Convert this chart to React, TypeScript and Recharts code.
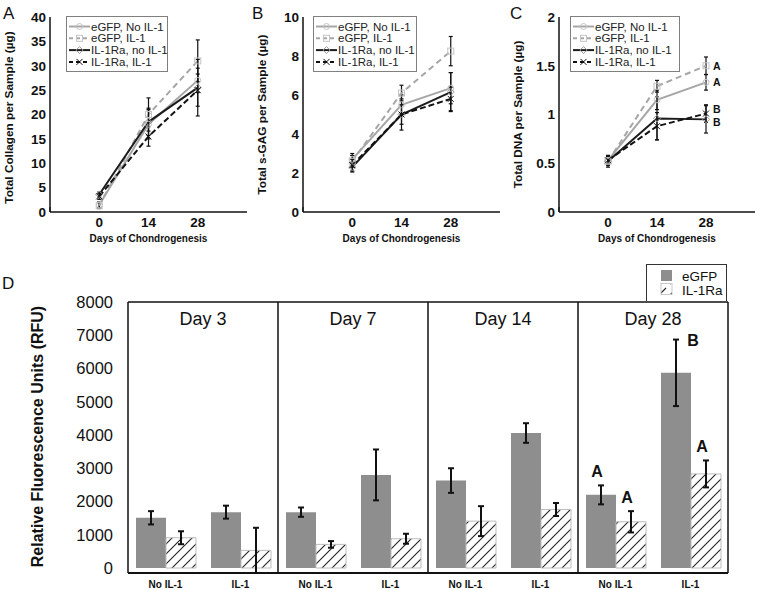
import React from 'react'
import {
  LineChart,
  Line,
  XAxis,
  YAxis,
  ErrorBar,
  Legend,
  LabelList,
  BarChart,
  Bar,
  ReferenceLine,
} from 'recharts'

const FONT = '"Liberation Sans", Arial, Helvetica, sans-serif'

// ---- panels A-C: time course ----
const days = [0, 14, 28]
const seriesNames = ['eGFP, No IL-1', 'eGFP, IL-1', 'IL-1Ra, no IL-1', 'IL-1Ra, IL-1']

// A: total collagen (µg)
const collagenEgfpNo = [1.5, 18, 27]
const collagenEgfpIl = [1.3, 20, 31]
const collagenRaNo = [3.6, 18.5, 25.5]
const collagenRaIl = [3.2, 15.5, 25]
const collagenEgfpNoErr = [0.6, 3.0, 2.5]
const collagenEgfpIlErr = [0.6, 3.4, 4.3]
const collagenRaNoErr = [0.5, 2.8, 5.8]
const collagenRaIlErr = [0.6, 2.0, 3.3]

// B: total s-GAG (µg)
const gagEgfpNo = [2.7, 5.5, 6.35]
const gagEgfpIl = [2.6, 6.1, 8.25]
const gagRaNo = [2.3, 5.0, 6.15]
const gagRaIl = [2.4, 5.0, 5.8]
const gagEgfpNoErr = [0.3, 0.5, 0.8]
const gagEgfpIlErr = [0.3, 0.4, 0.75]
const gagRaNoErr = [0.25, 0.8, 1.0]
const gagRaIlErr = [0.3, 0.5, 0.6]

// C: total DNA (µg)
const dnaEgfpNo = [0.53, 1.15, 1.33]
const dnaEgfpIl = [0.52, 1.29, 1.5]
const dnaRaNo = [0.52, 0.96, 0.95]
const dnaRaIl = [0.53, 0.88, 1.01]
const dnaEgfpNoErr = [0.04, 0.1, 0.08]
const dnaEgfpIlErr = [0.04, 0.06, 0.09]
const dnaRaNoErr = [0.06, 0.22, 0.14]
const dnaRaIlErr = [0.05, 0.14, 0.09]
const dnaLetters = ['A', 'A', 'B', 'B']

const collagenTicks = [0, 5, 10, 15, 20, 25, 30, 35, 40]
const gagTicks = [0, 2, 4, 6, 8, 10]
const dnaTicks = [0, 0.5, 1, 1.5, 2]

// ---- panel D: fluorescence ----
const dayLabels = ['Day 3', 'Day 7', 'Day 14', 'Day 28']
const conditions = ['No IL-1', 'IL-1']
const egfpRfu = [1510, 1680, 1680, 2800, 2630, 4060, 2200, 5870]
const egfpRfuErr = [200, 195, 140, 765, 370, 295, 285, 1000]
const il1raRfu = [910, 530, 710, 880, 1410, 1760, 1390, 2830]
const il1raRfuErr = [195, 680, 100, 150, 450, 195, 320, 405]
const egfpLetters = ['', '', '', '', '', '', 'A', 'B']
const il1raLetters = ['', '', '', '', '', '', 'A', 'A']
const rfuTicks = [0, 1000, 2000, 3000, 4000, 5000, 6000, 7000, 8000]

const steps = (max: number, step: number) => {
  const out: number[] = []
  for (let v = 0; v <= max + 1e-9; v += step) out.push(Math.round(v * 1000) / 1000)
  return out
}

const lineStyles = [
  { color: '#a6a6a6', dash: undefined, marker: 'circle', letterDy: 0 },
  { color: '#a6a6a6', dash: '6 4', marker: 'square', letterDy: 0 },
  { color: '#1c1c1c', dash: undefined, marker: 'diamond', letterDy: 3 },
  { color: '#111111', dash: '6 3', marker: 'cross', letterDy: -5 },
]

const buildRows = (vals: number[][], errs: number[][], letters?: string[]) =>
  days.map((d, i) => {
    const row: Record<string, number | string> = { day: d }
    vals.forEach((v, k) => {
      row['s' + k] = v[i]
      row['e' + k] = errs[k][i]
      row['t' + k] = letters && i === days.length - 1 ? letters[k] : ''
    })
    return row
  })

const collagenRows = buildRows(
  [collagenEgfpNo, collagenEgfpIl, collagenRaNo, collagenRaIl],
  [collagenEgfpNoErr, collagenEgfpIlErr, collagenRaNoErr, collagenRaIlErr],
)
const gagRows = buildRows(
  [gagEgfpNo, gagEgfpIl, gagRaNo, gagRaIl],
  [gagEgfpNoErr, gagEgfpIlErr, gagRaNoErr, gagRaIlErr],
)
const dnaRows = buildRows(
  [dnaEgfpNo, dnaEgfpIl, dnaRaNo, dnaRaIl],
  [dnaEgfpNoErr, dnaEgfpIlErr, dnaRaNoErr, dnaRaIlErr],
  dnaLetters,
)

const rfuRows = egfpRfu.map((v, i) => ({
  key: `${dayLabels[Math.floor(i / 2)]}|${conditions[i % 2]}`,
  egfp: v,
  egfpErr: egfpRfuErr[i],
  egfpLetter: egfpLetters[i],
  il1ra: il1raRfu[i],
  il1raErr: il1raRfuErr[i],
  il1raLetter: il1raLetters[i],
}))

function Marker({ kind, cx, cy, color }: { kind: string; cx?: number; cy?: number; color: string }) {
  if (cx == null || cy == null || isNaN(cx) || isNaN(cy)) return <g />
  if (kind === 'circle') return <circle cx={cx} cy={cy} r={3} fill="none" stroke="#c4c4c4" strokeWidth={1} />
  if (kind === 'square') return <rect x={cx - 3} y={cy - 3} width={6} height={6} fill="none" stroke="#c4c4c4" strokeWidth={1} />
  if (kind === 'diamond')
    return (
      <path
        d={`M${cx},${cy - 3.5}L${cx + 3.5},${cy}L${cx},${cy + 3.5}L${cx - 3.5},${cy}Z`}
        fill="none"
        stroke="#9a9a9a"
        strokeWidth={1}
      />
    )
  return (
    <g stroke={color} strokeWidth={1}>
      <line x1={cx - 3} y1={cy - 3} x2={cx + 3} y2={cy + 3} />
      <line x1={cx - 3} y1={cy + 3} x2={cx + 3} y2={cy - 3} />
    </g>
  )
}

const vertLabel = (text: string, offset: number, size: number, shift = 0) => (p: any) => {
  const vb = p.viewBox || {}
  const cx = (vb.x || 0) + offset
  const cy = vb.y + vb.height / 2 + shift
  return (
    <text
      x={cx}
      y={cy}
      transform={`rotate(-90 ${cx} ${cy})`}
      textAnchor="middle"
      dominantBaseline="central"
      fontSize={size}
      fontWeight="bold"
      fontFamily={FONT}
      fill="#111"
    >
      {text}
    </text>
  )
}

const daysLabel = (p: any) => {
  const vb = p.viewBox || {}
  return (
    <text
      x={vb.x + vb.width / 2}
      y={vb.y + 29.5}
      textAnchor="middle"
      fontSize={10}
      fontWeight="bold"
      fontFamily={FONT}
      fill="#111"
    >
      Days of Chondrogenesis
    </text>
  )
}

const emptyTick = () => <g />

function LineLegend({ payload, width }: { payload?: any[]; width: number }) {
  const byKey = new Map((payload || []).map((it: any) => [String(it.dataKey), it.value]))
  return (
    <svg width={width} height={56} style={{ display: 'block' }}>
      <rect x={0.5} y={0.5} width={width - 1} height={55} fill="#fff" stroke="#808080" strokeWidth={1} />
      {lineStyles.map((st, i) => {
        const y = 10.5 + i * 11.8
        const label = byKey.get('s' + i) ?? seriesNames[i]
        return (
          <g key={i}>
            <line x1={3} x2={24} y1={y} y2={y} stroke={st.color} strokeWidth={2} strokeDasharray={st.dash ? '4 3' : undefined} />
            <Marker kind={st.marker} cx={13.5} cy={y} color={st.color} />
            <text x={25} y={y + 4} fontSize={11.5} fontFamily={FONT} fill="#222">
              {label}
            </text>
          </g>
        )
      })}
    </svg>
  )
}

const dnaLetter = (k: number) => (p: any) => {
  if (!p.value) return <g />
  const x = p.x ?? p.viewBox?.x
  const y = p.y ?? p.viewBox?.y
  return (
    <text x={x + 7} y={y + 4 + lineStyles[k].letterDy} fontSize={10.5} fontWeight="bold" fontFamily={FONT} fill="#111">
      {p.value}
    </text>
  )
}

interface LinePanelProps {
  left: number
  width: number
  marginRight: number
  rows: Record<string, number | string>[]
  yMax: number
  yTicks: number[]
  minorStep: number
  yLabel: string
  yLabelShift?: number
  legendLeft: number
  legendWidth: number
  withLetters?: boolean
}

function LinePanel({
  left,
  width,
  marginRight,
  rows,
  yMax,
  yTicks,
  minorStep,
  yLabel,
  yLabelShift = 0,
  legendLeft,
  legendWidth,
  withLetters,
}: LinePanelProps) {
  const tickStyle = { fontSize: 13.5, fontWeight: 'bold', fill: '#111', fontFamily: FONT }
  return (
    <div style={{ position: 'absolute', left, top: 0 }}>
      <LineChart width={width} height={245} data={rows} margin={{ top: 17, right: marginRight, bottom: 0, left: 0 }}>
        <XAxis
          dataKey="day"
          type="number"
          domain={[-14, 42]}
          ticks={days}
          tickSize={0}
          tickMargin={5}
          tickLine={false}
          tick={tickStyle}
          axisLine={{ stroke: '#111', strokeWidth: 1.5 }}
          height={33}
          label={daysLabel}
        />
        <XAxis
          xAxisId="inner"
          type="number"
          domain={[-14, 42]}
          ticks={[-14, 0, 14, 28, 42]}
          mirror
          axisLine={false}
          tickSize={5}
          tickLine={{ stroke: '#111', strokeWidth: 1.2 }}
          tick={emptyTick}
        />
        <YAxis
          type="number"
          domain={[0, yMax]}
          ticks={yTicks}
          width={50}
          tickSize={0}
          tickMargin={4}
          tickLine={false}
          tick={tickStyle}
          axisLine={{ stroke: '#111', strokeWidth: 1.5 }}
          label={vertLabel(yLabel, 9, 11.8, yLabelShift)}
        />
        <YAxis
          yAxisId="minor"
          type="number"
          domain={[0, yMax]}
          ticks={steps(yMax, minorStep)}
          mirror
          axisLine={false}
          tickSize={3}
          tickLine={{ stroke: '#333', strokeWidth: 1 }}
          tick={emptyTick}
        />
        <YAxis
          yAxisId="major"
          type="number"
          domain={[0, yMax]}
          ticks={yTicks}
          mirror
          axisLine={false}
          tickSize={5}
          tickLine={{ stroke: '#111', strokeWidth: 1.2 }}
          tick={emptyTick}
        />
        <Legend
          layout="horizontal"
          verticalAlign="middle"
          align="center"
          wrapperStyle={{ left: legendLeft, top: 16, width: legendWidth, height: 56 }}
          content={(p: any) => <LineLegend payload={p.payload} width={legendWidth} />}
        />
        {lineStyles.map((st, k) => (
          <Line
            key={k}
            dataKey={'s' + k}
            name={seriesNames[k]}
            stroke={st.color}
            strokeWidth={2}
            strokeDasharray={st.dash}
            isAnimationActive={false}
            dot={(p: any) => <Marker key={p.index} kind={st.marker} cx={p.cx} cy={p.cy} color={st.color} />}
            activeDot={false}
          >
            <ErrorBar dataKey={'e' + k} width={2} stroke="#111" strokeWidth={1.2} direction="y" />
            {withLetters && <LabelList dataKey={'t' + k} content={dnaLetter(k)} />}
          </Line>
        ))}
      </LineChart>
    </div>
  )
}

function RfuLegend() {
  return (
    <svg width={81} height={37} style={{ display: 'block' }}>
      <defs>
        <pattern id="hatchLeg" patternUnits="userSpaceOnUse" width={11} height={11}>
          <rect width={11} height={11} fill="#fff" />
          <path d="M2,9 L9,2" stroke="#222" strokeWidth={1.1} />
        </pattern>
      </defs>
      <rect x={0.5} y={0.5} width={80} height={37} fill="#fff" stroke="#333" strokeWidth={1} />
      <rect x={15} y={6} width={11} height={11} fill="#8e8e8e" />
      <text x={36} y={16.5} fontSize={13.5} fontFamily={FONT} fill="#111">
        eGFP
      </text>
      <rect x={15} y={19.5} width={11} height={11} fill="url(#hatchLeg)" stroke="#c8c8c8" strokeWidth={1} />
      <text x={36} y={30.5} fontSize={13.5} fontFamily={FONT} fill="#111">
        IL-1Ra
      </text>
    </svg>
  )
}

const rfuLetter = (valueKey: 'egfp' | 'il1ra', errKey: 'egfpErr' | 'il1raErr') => (p: any) => {
  if (!p.value) return <g />
  const vb = p.viewBox || p
  const row = rfuRows[p.index]
  const barH = Math.abs(vb.height)
  const top = Math.min(vb.y, vb.y + vb.height)
  const pxPer = barH / row[valueKey]
  const errTop = top - row[errKey] * pxPer
  const cx = vb.x + vb.width / 2
  const side = p.value === 'B'
  return (
    <text
      x={side ? cx + 17 : cx - 4}
      y={side ? errTop + 6 : errTop - 8}
      textAnchor="middle"
      fontSize={16}
      fontWeight="bold"
      fontFamily={FONT}
      fill="#111"
    >
      {p.value}
    </text>
  )
}

const dayTitle = (text: string) => (p: any) => {
  const vb = p.viewBox || {}
  return (
    <text x={vb.x} y={vb.y + 23} textAnchor="middle" fontSize={18} fontFamily={FONT} fill="#111">
      {text}
    </text>
  )
}

function RfuChart() {
  return (
    <BarChart
      width={757}
      height={350}
      data={rfuRows}
      margin={{ top: 62, right: 29, bottom: 0, left: 0 }}
      barGap={0}
    >
      <defs>
        <pattern id="hatch" patternUnits="userSpaceOnUse" width={10} height={10}>
          <rect width={10} height={10} fill="#fff" />
          <path d="M0,10 L10,0 M-2,2 L2,-2 M8,12 L12,8" stroke="#222" strokeWidth={1.1} />
        </pattern>
      </defs>
      <XAxis
        dataKey="key"
        interval={0}
        tickSize={0}
        tickMargin={8}
        tickLine={false}
        height={17}
        tickFormatter={(v: string) => v.split('|')[1]}
        tick={{ fontSize: 10, fontWeight: 'bold', fill: '#111', fontFamily: FONT }}
        axisLine={{ stroke: '#111', strokeWidth: 2 }}
      />
      <YAxis
        type="number"
        domain={[0, 8000]}
        ticks={rfuTicks}
        width={128}
        tickSize={0}
        tickMargin={15}
        tickLine={false}
        tick={{ fontSize: 16.5, fill: '#111', fontFamily: FONT }}
        axisLine={{ stroke: '#111', strokeWidth: 1.5 }}
        label={vertLabel('Relative Fluorescence Units (RFU)', 37, 16, -1)}
      />
      <YAxis
        yAxisId="minor"
        type="number"
        domain={[0, 8000]}
        ticks={steps(8000, 250)}
        mirror
        axisLine={false}
        tickSize={3}
        tickLine={{ stroke: '#333', strokeWidth: 1 }}
        tick={emptyTick}
      />
      <Legend
        layout="horizontal"
        verticalAlign="middle"
        align="center"
        wrapperStyle={{ left: 646, top: 24, width: 81, height: 38 }}
        content={() => <RfuLegend />}
      />
      <ReferenceLine y={8000} stroke="#111" strokeWidth={1.5} ifOverflow="extendDomain" />
      {dayLabels.map((d) => (
        <ReferenceLine
          key={d + 'title'}
          x={`${d}|${conditions[0]}`}
          position="end"
          stroke="none"
          label={dayTitle(d)}
        />
      ))}
      {dayLabels.map((d) => (
        <ReferenceLine key={d + 'sep'} x={`${d}|${conditions[1]}`} position="end" stroke="#111" strokeWidth={1.5} />
      ))}
      <Bar dataKey="egfp" name="eGFP" fill="#8e8e8e" barSize={30} isAnimationActive={false}>
        <ErrorBar dataKey="egfpErr" width={3} stroke="#111" strokeWidth={2} direction="y" />
        <LabelList dataKey="egfpLetter" content={rfuLetter('egfp', 'egfpErr')} />
      </Bar>
      <Bar
        dataKey="il1ra"
        name="IL-1Ra"
        fill="url(#hatch)"
        stroke="#bdbdbd"
        strokeWidth={1}
        barSize={30}
        isAnimationActive={false}
      >
        <ErrorBar dataKey="il1raErr" width={3} stroke="#111" strokeWidth={2} direction="y" />
        <LabelList dataKey="il1raLetter" content={rfuLetter('il1ra', 'il1raErr')} />
      </Bar>
    </BarChart>
  )
}

const panelLetter = (text: string, left: number, top: number) => (
  <div style={{ position: 'absolute', left, top, fontSize: 17, fontFamily: FONT, color: '#111', lineHeight: '20px' }}>
    {text}
  </div>
)

export default function App() {
  return (
    <div
      style={{
        position: 'absolute',
        left: 0,
        top: 0,
        width: 757,
        height: 590,
        background: '#fff',
        overflow: 'hidden',
        fontFamily: FONT,
      }}
    >
      <LinePanel
        left={0}
        width={257}
        marginRight={10}
        rows={collagenRows}
        yMax={40}
        yTicks={collagenTicks}
        minorStep={1}
        yLabel="Total Collagen per Sample (µg)"
        yLabelShift={3}
        legendLeft={66}
        legendWidth={102}
      />
      <LinePanel
        left={253}
        width={257}
        marginRight={10}
        rows={gagRows}
        yMax={10}
        yTicks={gagTicks}
        minorStep={0.5}
        yLabel="Total s-GAG per Sample (µg)"
        legendLeft={60}
        legendWidth={104}
      />
      <LinePanel
        left={509}
        width={248}
        marginRight={2}
        rows={dnaRows}
        yMax={2}
        yTicks={dnaTicks}
        minorStep={0.1}
        yLabel="Total DNA per Sample (µg)"
        legendLeft={61}
        legendWidth={110}
        withLetters
      />
      <div style={{ position: 'absolute', left: 0, top: 240 }}>
        <RfuChart />
      </div>
      {panelLetter('A', 3, 4)}
      {panelLetter('B', 252, 4)}
      {panelLetter('C', 510, 4)}
      {panelLetter('D', 2, 274)}
    </div>
  )
}
